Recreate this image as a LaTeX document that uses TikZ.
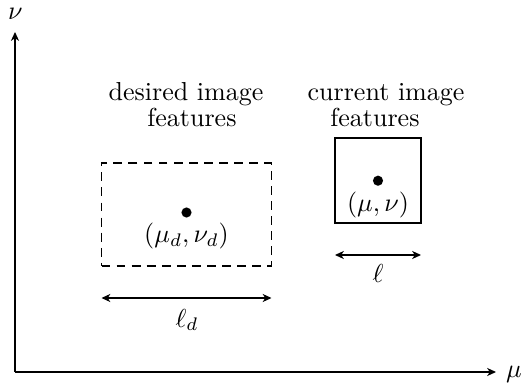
\RequirePackage{fix-cm}
\documentclass[tikz,border=0pt]{standalone}
\usetikzlibrary{arrows.meta}
\newcommand{\pxu}{0.3846pt}
\begin{document}
\begin{tikzpicture}[x=\pxu,y=-\pxu,
  font=\normalsize,
  line width=0.42pt,
  >={Stealth[length=3.4pt,width=3.1pt,inset=1pt]},
  lbl/.style={inner sep=0pt, anchor=base},
  dot/.style={circle, fill, minimum size=3.9pt, inner sep=0pt},
  dashbox/.style={draw, dash pattern=on 3.4pt off 2.4pt, inner sep=0pt},
  solidbox/.style={draw, inner sep=0pt}]
\useasboundingbox (0,0) rectangle (522,383);
% axes
\coordinate (O) at (15,372);
\coordinate (ytip) at (15,32);
\coordinate (xtip) at (496,372);
\draw[->] (O) -- (ytip);
\draw[->] (O) -- (xtip);
\node[lbl] (nu) at (15.5,20) {$\nu$};
\node[lbl] (mu) at (514,377) {$\mu$};
% desired features
\node[lbl] (dcap1) at (186,101) {desired image};
\node[lbl] (dcap2) at (192,127) {features};
\node[dashbox, minimum width=170*0.3846pt, minimum height=103*0.3846pt] (dbox) at (186.5,214.5) {};
\node[dot] (ddot) at (186.5,212.5) {};
\node[lbl] (dlab) at (186.5,243) {$(\mu_d,\nu_d)$};
\coordinate (dl) at (101.5,298);
\coordinate (dr) at (271.5,298);
\draw[<->] (dl) -- (dr);
\node[lbl] (ld) at (187,327) {$\ell_d$};
% current features
\node[lbl] (ccap1) at (386,101) {current image};
\node[lbl] (ccap2) at (375,127) {features};
\node[solidbox, minimum width=86*0.3846pt, minimum height=85*0.3846pt] (cbox) at (378,180.5) {};
\node[dot] (cdot) at (378,180.7) {};
\node[lbl] (clab) at (378,211) {$(\mu,\nu)$};
\coordinate (cl) at (335,255);
\coordinate (cr) at (421,255);
\draw[<->] (cl) -- (cr);
\node[lbl] (l) at (378,282) {$\ell$};
\end{tikzpicture}
\end{document}
